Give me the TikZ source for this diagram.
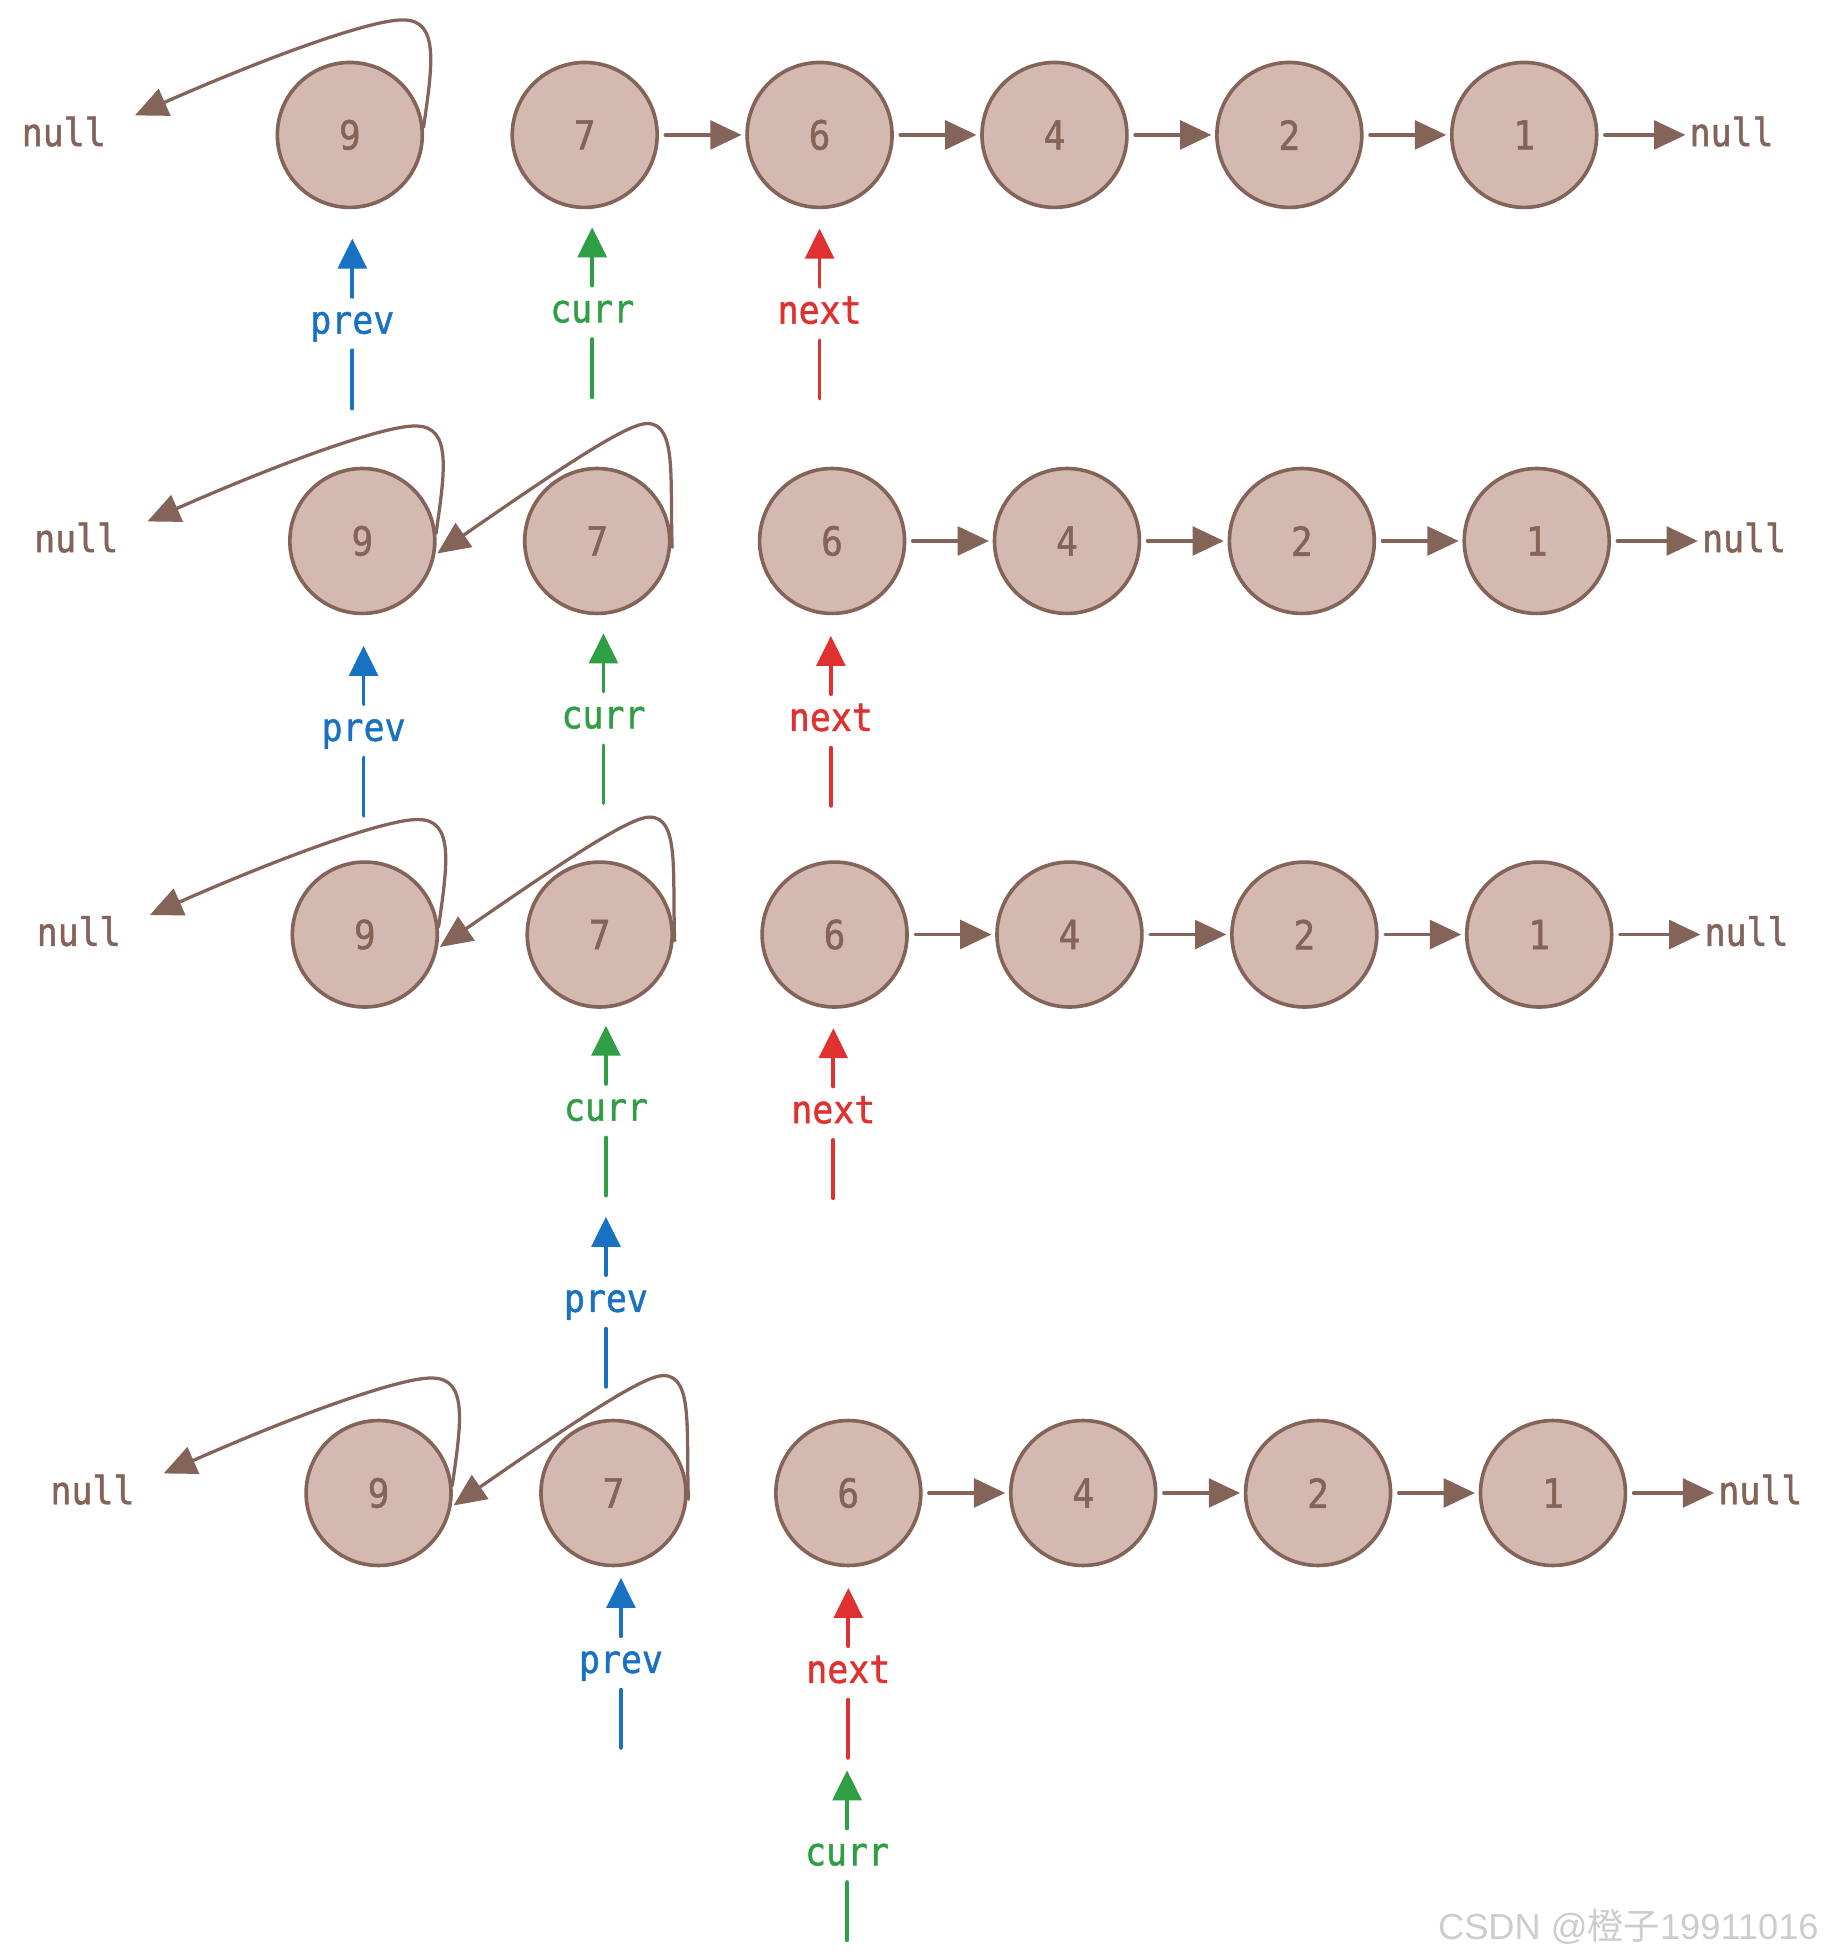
\documentclass[tikz,border=0pt]{standalone}
\usepackage{fontspec}
\setmonofont{DejaVu Sans Mono}[FakeStretch=0.9,FakeBold=1.2]
\newfontfamily\wmfont{Liberation Sans}
\newfontfamily\cjkfont{Noto Sans CJK SC}
\usetikzlibrary{arrows.meta,calc}
\definecolor{brn}{RGB}{132,99,88}
\definecolor{nodefill}{RGB}{211,185,175}
\definecolor{pblue}{RGB}{25,113,194}
\definecolor{pgreen}{RGB}{47,158,68}
\definecolor{pred}{RGB}{224,49,49}
\definecolor{wmgray}{RGB}{205,205,205}

\newcommand{\listrow}[3]{%
  \node[listnode] (#1n9) at (#2,#3) {9};
  \node[listnode] (#1n7) at (#2+188,#3) {7};
  \node[listnode] (#1n6) at (#2+376,#3) {6};
  \node[listnode] (#1n4) at (#2+564,#3) {4};
  \node[listnode] (#1n2) at (#2+752,#3) {2};
  \node[listnode] (#1n1) at (#2+940,#3) {1};
  \node[nulltext,anchor=base] (#1nullL) at (#2-229,#3+9) {null};
  \node[nulltext,anchor=base west] (#1nullR) at (#2+1072,#3+9) {null};
  \draw[link] (#1n6) -- (#1n4);
  \draw[link] (#1n4) -- (#1n2);
  \draw[link] (#1n2) -- (#1n1);
  \draw[link] (#1n1.east) -- (#1n1.east -| #1nullR.west);
  \draw[looplink] ($(#1n9)+(59,-6)$) .. controls ($(#1n9)+(66,-55)$) and ($(#1n9)+(72,-92)$) .. ($(#1n9)+(43,-92)$)
     .. controls ($(#1n9)+(20,-93)$) and ($(#1n9)+(-60,-65)$) .. ([shift={(23,-13)}]#1nullL.east);
}
\newcommand{\sevenloop}[1]{%
  \draw[looplink] ($(#1n7)+(60,5)$) .. controls ($(#1n7)+(58,-50)$) and ($(#1n7)+(64,-94)$) .. ($(#1n7)+(40,-94)$)
     .. controls ($(#1n7)+(25,-94)$) and ($(#1n7)+(-20,-65)$) .. ($(#1n9)+(60,10)$);
}
\newcommand{\mkptr}[5]{%
  \node[ptrlabel,text=#4,anchor=base] (#1) at (#2,#3+9) {#5};
  \coordinate (#1tip) at (#2,#3-67);
  \coordinate (#1end) at (#2,#3+69);
  \draw[ptrarrow,draw=#4] (#1.north) -- (#1tip);
  \draw[ptrline,draw=#4] (#1.south) -- (#1end);
}

\begin{document}
\begin{tikzpicture}[x=0.5pt,y=-0.5pt,
  listnode/.style={circle,draw=brn,fill=nodefill,line width=1.45pt,minimum size=58pt,inner sep=0pt,
    text=brn,font=\ttfamily\fontsize{16}{16}\selectfont},
  nulltext/.style={text=brn,font=\ttfamily\fontsize{15.5}{16}\selectfont,inner sep=0pt},
  link/.style={draw=brn,line width=1.3pt,line cap=round,-{Triangle[length=12.5pt,width=11.5pt]},
    shorten <=2.5pt,shorten >=1.5pt},
  looplink/.style={draw=brn,line width=1.3pt,line cap=round,-{Triangle[length=13pt,width=11.5pt]}},
  ptrlabel/.style={font=\ttfamily\fontsize{15.5}{16}\selectfont,text height=8.5pt,text depth=0.5pt,
    inner xsep=0pt,inner ysep=6pt},
  ptrarrow/.style={line width=1.5pt,line cap=round,-{Triangle[length=12pt,width=11.5pt]}},
  ptrline/.style={line width=1.5pt,line cap=round}
]
\fill[white] (0,0) rectangle (1460,1568);
\useasboundingbox (0,0) rectangle (1460,1568);

% row 1
\listrow{r1}{280}{108}
\draw[link] (r1n7) -- (r1n6);
\mkptr{r1prev}{282}{258}{pblue}{prev}
\mkptr{r1curr}{474}{249}{pgreen}{curr}
\mkptr{r1next}{656}{250}{pred}{next}

% row 2
\listrow{r2}{290}{433}
\sevenloop{r2}
\mkptr{r2prev}{291}{584}{pblue}{prev}
\mkptr{r2curr}{483}{574}{pgreen}{curr}
\mkptr{r2next}{665}{576}{pred}{next}

% row 3
\listrow{r3}{292}{748}
\sevenloop{r3}
\mkptr{r3curr}{485}{888}{pgreen}{curr}
\mkptr{r3next}{667}{890}{pred}{next}
\mkptr{r3prev}{485}{1041}{pblue}{prev}

% row 4
\listrow{r4}{303}{1195}
\sevenloop{r4}
\mkptr{r4prev}{497}{1330}{pblue}{prev}
\mkptr{r4next}{679}{1338}{pred}{next}
\mkptr{r4curr}{678}{1484}{pgreen}{curr}

\node[anchor=base east,inner sep=0pt,text=wmgray,font=\wmfont\fontsize{14.5}{15}\selectfont] (wm) at (1456,1552)
  {CSDN @{\cjkfont 橙子}19911016};
\end{tikzpicture}
\end{document}
